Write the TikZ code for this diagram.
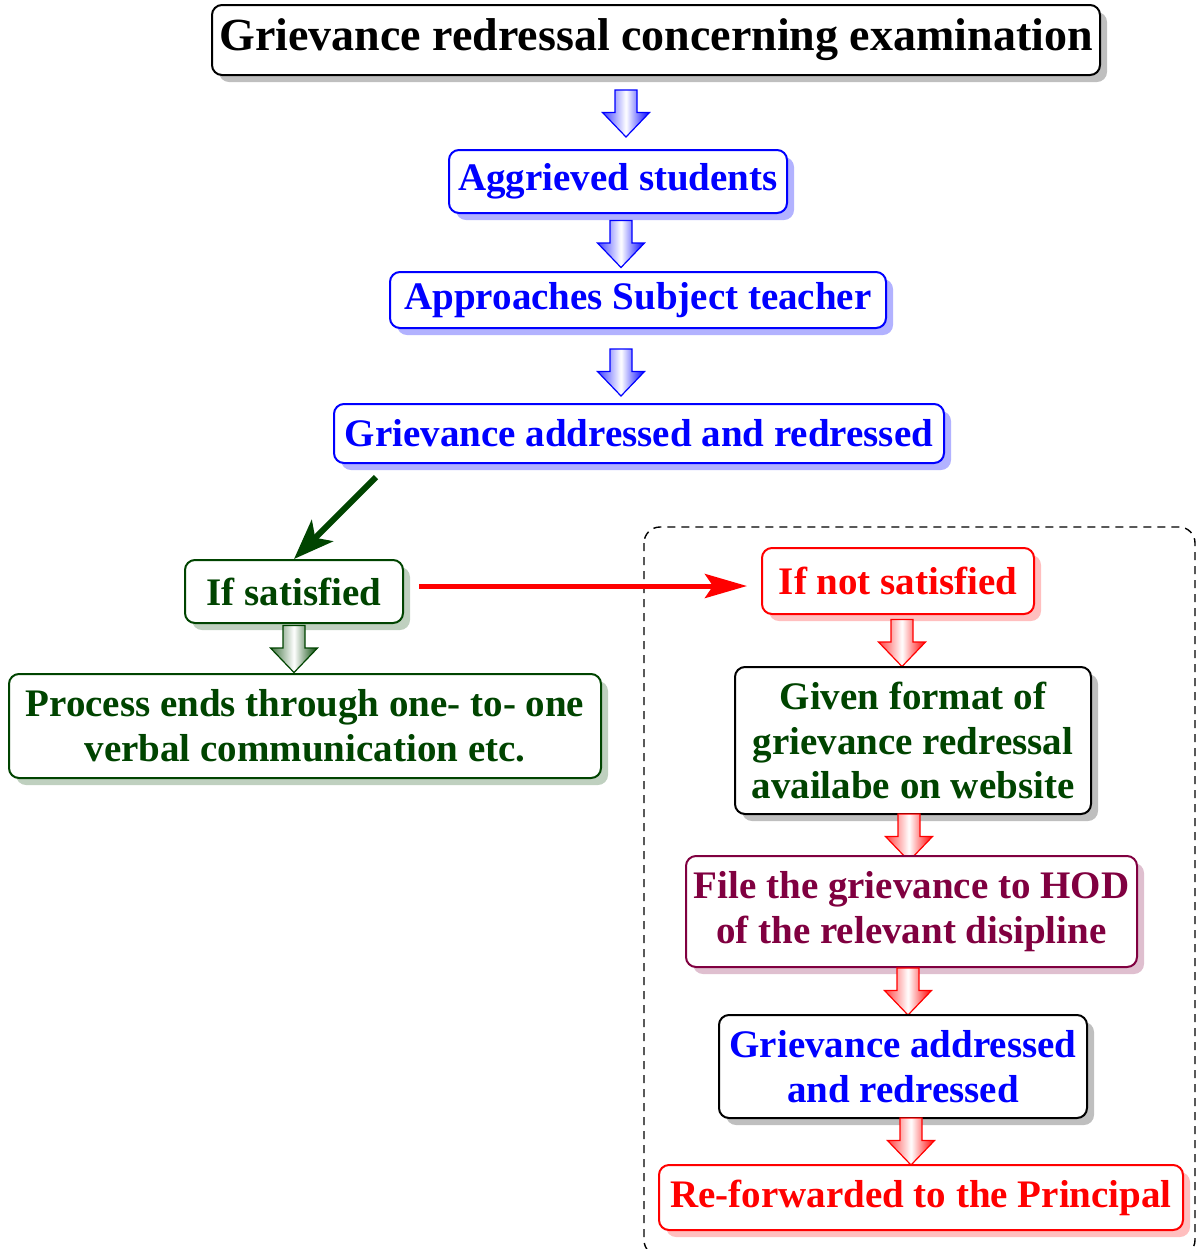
\documentclass[tikz,border=0pt]{standalone}
\usepackage{fontspec}
\setmainfont{Liberation Serif}
\usetikzlibrary{shadows,arrows.meta}
\definecolor{dgreen}{RGB}{0,68,0}
\definecolor{maroon}{RGB}{128,0,64}

\tikzset{pics/barrow/.style={code={
  \path[draw=#1,line width=0.6pt,left color=#1!75,right color=#1,middle color=white]
    (-5.5pt,11.75pt) -- (5.5pt,11.75pt) -- (5.5pt,0.5pt) -- (11.75pt,0.5pt)
    -- (0pt,-11.75pt) -- (-11.75pt,0.5pt) -- (-5.5pt,0.5pt) -- cycle;}}}

\begin{document}
\begin{tikzpicture}[x=0.5pt,y=-0.5pt,
  box/.style={draw,rounded corners=5pt,line width=1pt,fill=white,align=center,inner sep=0pt,
    font=\bfseries\fontsize{19.5}{22.3}\selectfont},
  shad/.style={drop shadow={shadow xshift=3.5pt,shadow yshift=-3.5pt,fill=#1,opacity=1}}]

\useasboundingbox (0,0) rectangle (1196,1249);

\node[box,shad=black!25,minimum width=444pt,minimum height=35pt,
  font=\bfseries\fontsize{23}{27}\selectfont] (title) at (656,40) {Grievance redressal concerning examination};
\pic (a1) at (626,113.5) {barrow=blue};
\node[box,draw=blue,text=blue,shad=blue!30,minimum width=169pt,minimum height=31.5pt] (aggr) at (618,181.5) {Aggrieved students};
\pic (a2) at (621,244) {barrow=blue};
\node[box,draw=blue,text=blue,shad=blue!30,minimum width=248pt,minimum height=28pt] (appr) at (638,300) {Approaches Subject teacher};
\pic (a3) at (621,372.5) {barrow=blue};
\node[box,draw=blue,text=blue,shad=blue!30,minimum width=305pt,minimum height=29.5pt] (addr) at (639,433.5) {Grievance addressed and redressed};

% left branch
\coordinate (gstart) at (376,477);
\node[box,draw=dgreen,text=dgreen,shad=dgreen!25,minimum width=109pt,minimum height=31.5pt] (sat) at (294,591.5) {If satisfied};
\draw[-{Stealth[length=20pt,width=15pt,inset=5pt]},line width=3pt,dgreen] (gstart) -- (sat.north);
\pic (ga) at (294,649) {barrow=dgreen};
\node[box,draw=dgreen,text=dgreen,shad=dgreen!25,minimum width=296pt,minimum height=52pt] (proc) at (305,726) {Process ends through one- to- one\\verbal communication etc.};

% right branch
\draw[dashed,dash pattern=on 4pt off 3pt,line width=0.7pt,rounded corners=8pt] (644,527) rectangle (1195,1256);
\node[box,draw=red,text=red,shad=red!25,minimum width=136pt,minimum height=33pt] (notsat) at (898,581) {If not satisfied};
\draw[-{Stealth[length=21pt,width=12pt,inset=4pt]},line width=2.5pt,red,shorten <=7.5pt,shorten >=7pt]
  ([yshift=2.75pt]sat.east) -- ([yshift=-2.5pt]notsat.west);
\pic (r1) at (902,643) {barrow=red};
\node[box,text=dgreen,shad=black!25,minimum width=178pt,minimum height=73.5pt] (form) at (913,740.5) {Given format of\\grievance redressal\\availabe on website};
\pic (r2) at (909,837.5) {barrow=red};
\node[box,draw=maroon,text=maroon,shad=maroon!25,minimum width=225.5pt,minimum height=55.5pt] (hod) at (911.5,911.5) {File the grievance to HOD\\of the relevant disipline};
\pic (r3) at (908,991.5) {barrow=red};
\node[box,text=blue,shad=black!25,minimum width=184pt,minimum height=51.5pt] (addr2) at (903,1066.5) {Grievance addressed\\and redressed};
\pic (r4) at (911,1141.5) {barrow=red};
\node[box,draw=red,text=red,shad=red!25,minimum width=262pt,minimum height=32.5pt] (princ) at (921,1197.5) {Re-forwarded to the Principal};

\end{tikzpicture}
\end{document}
